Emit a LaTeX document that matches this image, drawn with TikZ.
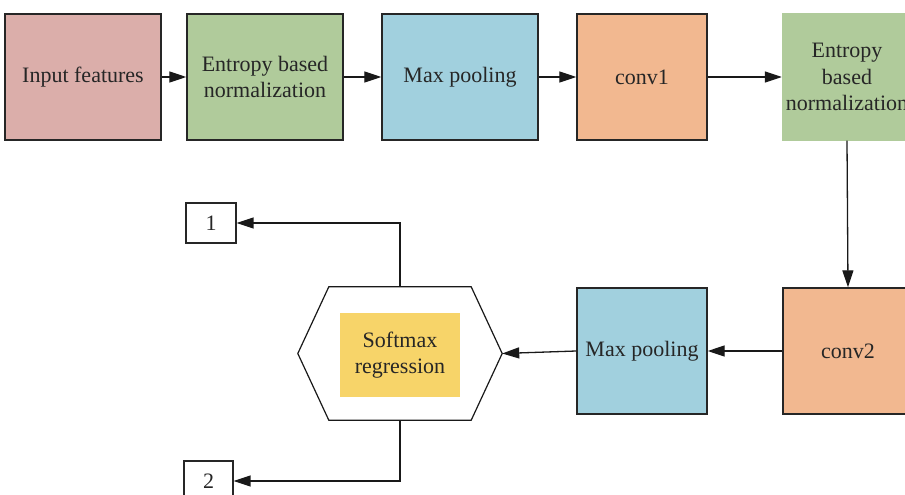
\documentclass[tikz,border=0pt]{standalone}
\usepackage{fontspec}
\setmainfont{Liberation Serif}
\newfontfamily\diagfont{Liberation Serif}
\usetikzlibrary{arrows.meta,calc}
\definecolor{cin}{HTML}{DBAEAA}
\definecolor{cgreen}{HTML}{B0CB9B}
\definecolor{cblue}{HTML}{A1D0DE}
\definecolor{corange}{HTML}{F2B890}
\definecolor{cyellow}{HTML}{F7D469}
\definecolor{ctext}{HTML}{262626}
\begin{document}
\begin{tikzpicture}[x=1pt,y=-1pt,
  every node/.style={font=\diagfont\fontsize{22}{26.5}\selectfont, text=ctext, align=center, inner sep=0pt},
  blockbox/.style={draw=black!85, line width=1.4pt, minimum height=126pt},
  wide/.style={minimum width=156pt},
  narrow/.style={minimum width=130pt},
  numbox/.style={draw=black!85, line width=1.2pt, minimum width=50pt, minimum height=40pt},
  conn/.style={line width=1.3pt, draw=black!90, -{Triangle[length=17pt,width=11pt]}}]
\clip (0,0) rectangle (905,495);
\fill[white] (0,0) rectangle (905,495);
\node[blockbox,wide,fill=cin] (in) at (83,77) {Input features};
\node[blockbox,wide,fill=cgreen] (en1) at (265,77) {Entropy based\\normalization};
\node[blockbox,wide,fill=cblue] (mp1) at (460,77) {Max pooling};
\node[blockbox,narrow,fill=corange] (c1) at (642,77) {conv1};
\node[narrow,minimum height=127pt,fill=cgreen] (en2) at (847,77) {Entropy\\based\\normalization};
\node[blockbox,narrow,fill=corange] (c2) at (848,351) {conv2};
\node[blockbox,narrow,fill=cblue] (mp2) at (642,351) {Max pooling};
\node[minimum width=204pt,minimum height=133pt] (hex) at (400,353.5) {};
\draw[line width=1.2pt, draw=black!90] (hex.west) -- ($(hex.north west)+(31,0)$) -- ($(hex.north east)+(-31,0)$) -- (hex.east) -- ($(hex.south east)+(-31,0)$) -- ($(hex.south west)+(31,0)$) -- cycle;
\node[fill=cyellow, minimum width=120pt, minimum height=84pt] (sm) at (400,355) {Softmax\\regression};
\node[numbox] (b1) at (211,223) {1};
\node[numbox,minimum width=49pt] (b2) at (208.5,481) {2};
\draw[conn] (in) -- (en1);
\draw[conn] (en1) -- (mp1);
\draw[conn] (mp1) -- (c1);
\draw[conn] (c1) -- (en2);
\draw[conn] (en2.south) -- (c2.north);
\draw[conn] (c2) -- (mp2);
\draw[conn] (mp2.west) -- (hex.east);
\draw[conn] (hex.north) |- (b1.east);
\draw[conn] (hex.south) |- (b2.east);
\end{tikzpicture}
\end{document}
